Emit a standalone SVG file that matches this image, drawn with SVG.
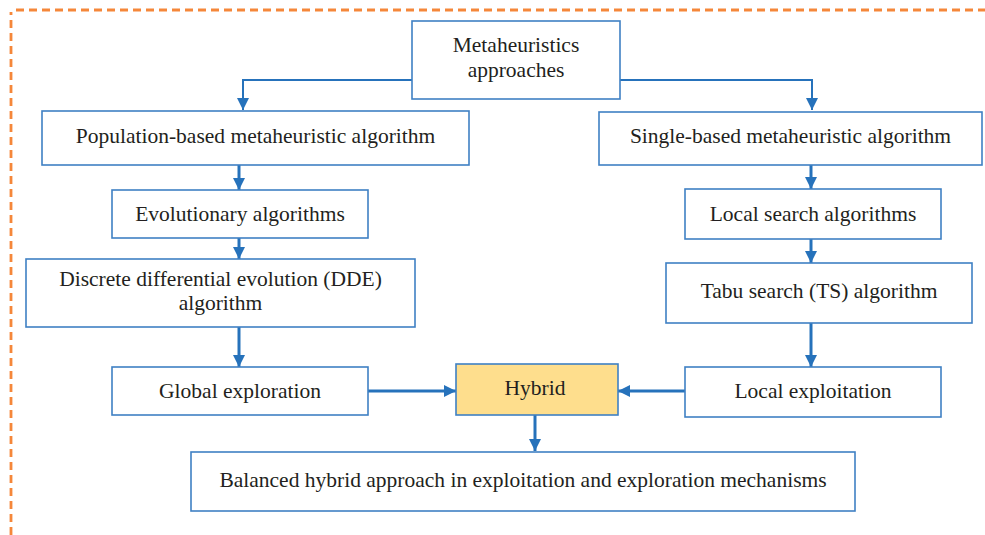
<svg xmlns="http://www.w3.org/2000/svg" width="985" height="535" viewBox="0 0 985 535">
<defs>
<style>
.box{fill:#fff;stroke:#3f80c4;stroke-width:1.6}
.hy{fill:#fede8d;stroke:#3f80c4;stroke-width:1.6}
.t{font-family:"Liberation Serif","Times New Roman",serif;font-size:21.5px;fill:#231f20;text-anchor:middle}
.c{fill:none;stroke:#2672bb;stroke-width:3}
.c2{fill:none;stroke:#2672bb;stroke-width:2}
.frame{fill:none;stroke:#f5873a;stroke-width:2.8;stroke-dasharray:8 5}
</style>
<marker id="ah" viewBox="0 0 10 10" refX="10" refY="5" markerWidth="12" markerHeight="12" markerUnits="userSpaceOnUse" orient="auto">
<path d="M0,0 L10,5 L0,10 z" fill="#2672bb"/>
</marker>
</defs>
<path class="frame" d="M11,535 V12"/>
<path class="frame" d="M16,10 H985"/>
<g id="connectors">
<path class="c2" d="M412,80 H243 V110" marker-end="url(#ah)"/>
<path class="c2" d="M620,80 H812 V110" marker-end="url(#ah)"/>
<path class="c" d="M239,165 V190" marker-end="url(#ah)"/>
<path class="c" d="M239,238 V259" marker-end="url(#ah)"/>
<path class="c" d="M239,327 V367" marker-end="url(#ah)"/>
<path class="c" d="M811,165 V189" marker-end="url(#ah)"/>
<path class="c" d="M811,239 V263" marker-end="url(#ah)"/>
<path class="c" d="M811,323 V367" marker-end="url(#ah)"/>
<path class="c" d="M368,391 H456" marker-end="url(#ah)"/>
<path class="c" d="M685,391 H618" marker-end="url(#ah)"/>
<path class="c" d="M535,415 V451" marker-end="url(#ah)"/>
</g>
<g id="metaheuristics">
<rect class="box" x="412" y="21" width="208" height="78"/>
<text class="t" x="516" y="52">Metaheuristics</text>
<text class="t" x="516" y="77">approaches</text>
</g>
<g id="population">
<rect class="box" x="42" y="111" width="427" height="54"/>
<text class="t" x="255.5" y="143">Population-based metaheuristic algorithm</text>
</g>
<g id="single">
<rect class="box" x="599" y="112" width="383" height="53"/>
<text class="t" x="790.5" y="143">Single-based metaheuristic algorithm</text>
</g>
<g id="evolutionary">
<rect class="box" x="112" y="190" width="256" height="48"/>
<text class="t" x="240" y="221">Evolutionary algorithms</text>
</g>
<g id="dde">
<rect class="box" x="26" y="259" width="389" height="68"/>
<text class="t" x="220.5" y="286">Discrete differential evolution (DDE)</text>
<text class="t" x="220.5" y="310">algorithm</text>
</g>
<g id="localsearch">
<rect class="box" x="685" y="189" width="256" height="50"/>
<text class="t" x="813" y="221">Local search algorithms</text>
</g>
<g id="tabu">
<rect class="box" x="666" y="263" width="306" height="60"/>
<text class="t" x="819" y="298">Tabu search (TS) algorithm</text>
</g>
<g id="global">
<rect class="box" x="112" y="367" width="256" height="48"/>
<text class="t" x="240" y="398">Global exploration</text>
</g>
<g id="hybrid">
<rect class="hy" x="456" y="364" width="162" height="51"/>
<text class="t" x="535" y="395">Hybrid</text>
</g>
<g id="localexploitation">
<rect class="box" x="685" y="367" width="256" height="50"/>
<text class="t" x="813" y="398">Local exploitation</text>
</g>
<g id="balanced">
<rect class="box" x="191" y="452" width="664" height="59"/>
<text class="t" x="523" y="487">Balanced hybrid approach in exploitation and exploration mechanisms</text>
</g>
</svg>
